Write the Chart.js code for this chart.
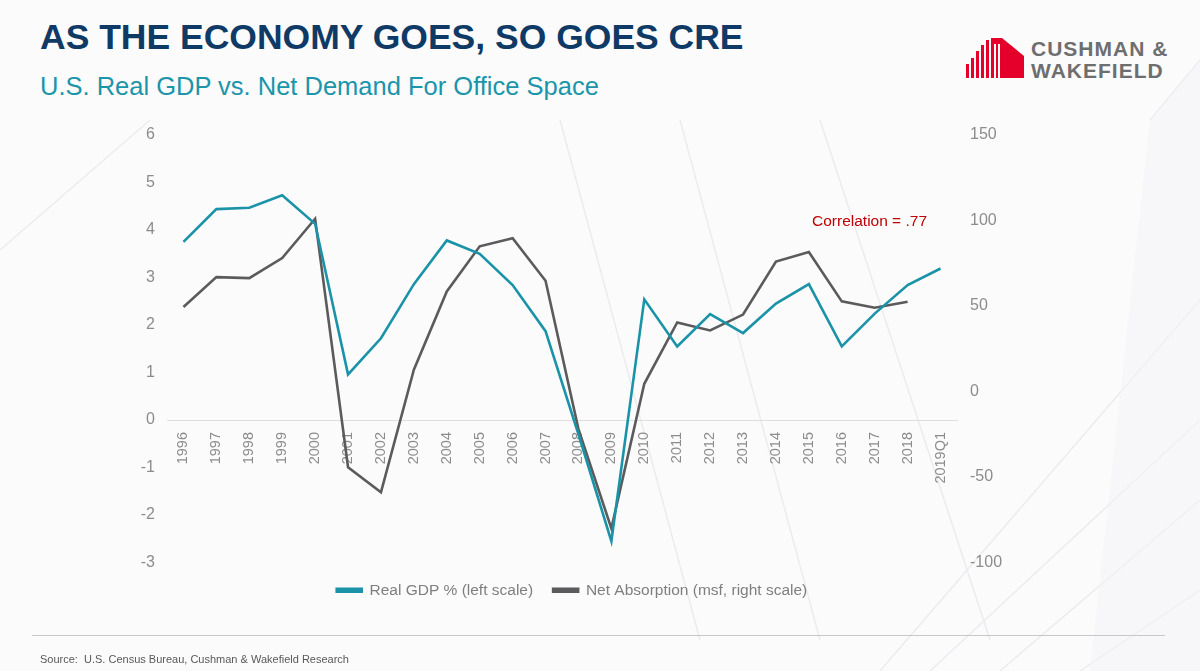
<!DOCTYPE html>
<html>
<head>
<meta charset="utf-8">
<script src="https://cdn.jsdelivr.net/npm/chart.js@4.4.1/dist/chart.umd.min.js"></script>
<style>
  html, body { margin: 0; padding: 0; }
  body { width: 1200px; height: 671px; position: relative; overflow: hidden; background: #fbfbfc; font-family: "Liberation Sans", Arial, sans-serif; }
  #bg { position: absolute; left: 0; top: 0; }
  #title { position: absolute; left: 40px; top: 17px; font-size: 35.5px; font-weight: bold; color: #0f3a66; white-space: nowrap; line-height: 40px; }
  #subtitle { position: absolute; left: 40px; top: 71px; font-size: 25.5px; color: #1a95aa; white-space: nowrap; line-height: 30px; }
  #logoText { position: absolute; left: 1031px; top: 38px; font-size: 21px; font-weight: bold; color: #6e6e70; letter-spacing: 1px; line-height: 22px; white-space: nowrap; }
  #corr { position: absolute; left: 812px; top: 212px; font-size: 15.5px; color: #c00000; white-space: nowrap; line-height: 18px; }
  #rule { position: absolute; left: 32px; top: 635px; width: 1133px; height: 1px; background: #c8c8c8; }
  #source { position: absolute; left: 40px; top: 653px; font-size: 11px; color: #595959; white-space: nowrap; line-height: 13px; }
  #wrap { position: absolute; left: 0; top: 0; width: 1200px; height: 671px; }
</style>
</head>
<body>
<svg id="bg" width="1200" height="671">
  <g stroke="#ececf0" stroke-width="1.5" fill="none">
    <line x1="880" y1="671" x2="1200" y2="300"/>
    <line x1="930" y1="671" x2="1200" y2="420"/>
    <line x1="1000" y1="671" x2="1200" y2="500"/>
    <line x1="1080" y1="671" x2="1200" y2="590"/>
    <line x1="1150" y1="120" x2="1200" y2="60"/>
    <line x1="560" y1="120" x2="700" y2="640"/>
    <line x1="820" y1="120" x2="990" y2="640"/>
    <line x1="680" y1="120" x2="820" y2="640"/>
    <line x1="150" y1="120" x2="0" y2="250"/>
  </g>
  <polygon points="1150,120 1200,60 1200,671 1090,671" fill="#f3f3f5" opacity="0.5"/>
</svg>
<div id="title">AS THE ECONOMY GOES, SO GOES CRE</div>
<div id="subtitle">U.S. Real GDP vs. Net Demand For Office Space</div>
<svg style="position:absolute;left:966px;top:38px" width="60" height="41">
  <g fill="#e4002b">
    <rect x="0" y="26" width="3" height="14"/>
    <rect x="5" y="20" width="3" height="20"/>
    <rect x="10" y="13" width="3" height="27"/>
    <rect x="15" y="7" width="3" height="33"/>
    <rect x="20" y="2" width="3" height="38"/>
    <polygon points="25,0 36,0 36,40 25,40"/>
    <polygon points="36,0 58,18 58,40 36,40"/>
  </g>
  <g fill="#fbfbfc">
    <rect x="28" y="6" width="2" height="34"/>
    <rect x="32" y="6" width="2" height="34"/>
  </g>
</svg>
<div id="logoText">CUSHMAN &amp;<br>WAKEFIELD</div>
<div id="wrap"><canvas id="c" width="1200" height="671"></canvas></div>
<div id="corr">Correlation = .77</div>
<div id="rule"></div>
<div id="source">Source:&nbsp; U.S. Census Bureau, Cushman &amp; Wakefield Research</div>
<script>
const categories = ["1996","1997","1998","1999","2000","2001","2002","2003","2004","2005","2006","2007","2008","2009","2010","2011","2012","2013","2014","2015","2016","2017","2018","2019Q1"];
const realGDP = [3.75, 4.44, 4.47, 4.73, 4.13, 0.96, 1.72, 2.86, 3.78, 3.5, 2.84, 1.87, -0.3, -2.55, 2.54, 1.55, 2.23, 1.83, 2.45, 2.86, 1.55, 2.24, 2.84, 3.19];
const netAbsorption = [49.4, 66.9, 66.3, 78, 101, -44.3, -59, 12.7, 58.5, 84.9, 89.6, 64.8, -22, -80, 4.5, 40.4, 35.7, 45, 76, 81.6, 52.7, 49, 52.5, null];
const leftTicks = { min: -3, max: 6, step: 1 };
const rightTicks = { min: -100, max: 150, step: 50 };

const tickColor = '#8c8c8c';
new Chart(document.getElementById('c'), {
  type: 'line',
  data: {
    labels: categories,
    datasets: [
      { label: 'Real GDP % (left scale)', data: realGDP, yAxisID: 'y', borderColor: '#1a93a8', backgroundColor: '#1a93a8', borderWidth: 2.6, pointRadius: 0, tension: 0 },
      { label: 'Net Absorption (msf, right scale)', data: netAbsorption, yAxisID: 'y1', borderColor: '#5b5b5d', backgroundColor: '#5b5b5d', borderWidth: 2.6, pointRadius: 0, tension: 0 }
    ]
  },
  options: {
    responsive: false,
    animation: false,
    layout: { padding: { left: 0, right: 56, top: 135, bottom: 63 } },
    plugins: {
      tooltip: { enabled: false },
      legend: {
        position: 'bottom',
        labels: { boxWidth: 25, boxHeight: 3, padding: 20, color: '#7f7f7f', font: { family: 'Liberation Sans, Arial', size: 15.5 } }
      }
    },
    scales: {
      x: {
        type: 'category',
        position: { y: 0 },
        offset: true,
        grid: { display: false },
        border: { display: true, color: '#dedede', width: 1 },
        ticks: { minRotation: 90, maxRotation: 90, autoSkip: false, padding: 4, color: tickColor, font: { family: 'Liberation Sans, Arial', size: 14.5 } }
      },
      y: {
        position: 'left',
        min: leftTicks.min, max: leftTicks.max,
        grid: { display: false, drawTicks: false },
        border: { display: false },
        ticks: { stepSize: leftTicks.step, padding: 12, color: tickColor, font: { family: 'Liberation Sans, Arial', size: 16 } },
        afterFit: s => { s.width = 167; }
      },
      y1: {
        position: 'right',
        min: rightTicks.min, max: rightTicks.max,
        grid: { display: false, drawTicks: false },
        border: { display: false },
        ticks: { stepSize: rightTicks.step, padding: 13, color: tickColor, font: { family: 'Liberation Sans, Arial', size: 16 } },
        afterFit: s => { s.width = 187; }
      }
    }
  }
});
</script>
</body>
</html>
